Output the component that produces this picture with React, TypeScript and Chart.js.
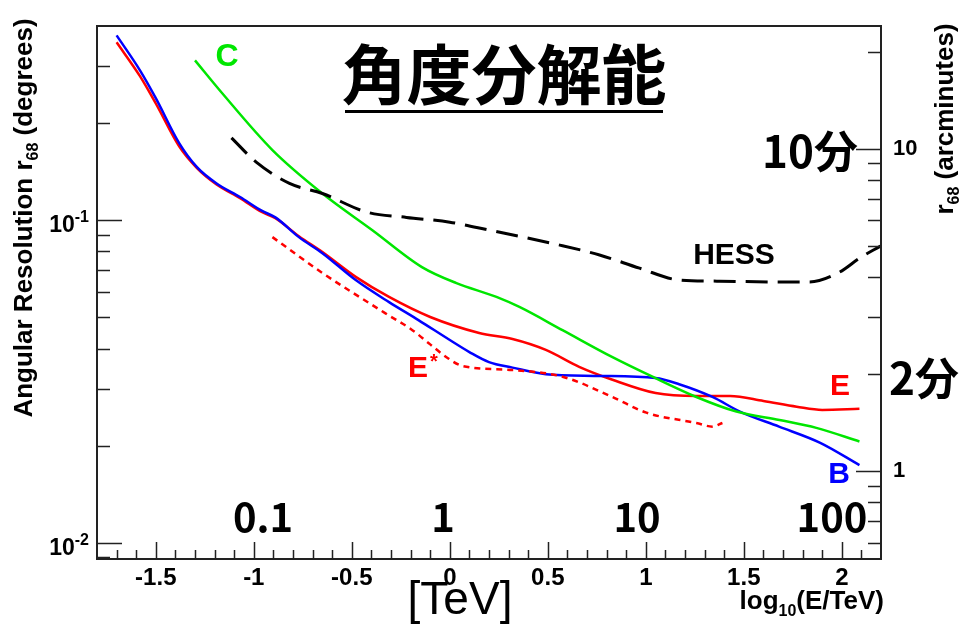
import React, { useEffect, useRef } from "react";
import { Chart, registerables } from "chart.js";
Chart.register(...registerables);

// ---- data (x = log10(E/TeV), y = r68 in degrees) ----
const bX = [-1.70, -1.58, -1.50, -1.38, -1.29, -1.19, -1.07, -0.96, -0.89, -0.77, -0.65, -0.48, -0.31, -0.16, 0.0, 0.10, 0.20, 0.32, 0.49, 0.75, 1.05, 1.17, 1.34, 1.48, 1.68, 1.89, 2.09];
const bY = [0.374, 0.291, 0.239, 0.173, 0.146, 0.130, 0.118, 0.107, 0.102, 0.0886, 0.0790, 0.0652, 0.0557, 0.0490, 0.0425, 0.0390, 0.0363, 0.0349, 0.0333, 0.0329, 0.0324, 0.0310, 0.0283, 0.0255, 0.0229, 0.0204, 0.0174];

const eX = [-1.70, -1.58, -1.50, -1.38, -1.29, -1.19, -1.07, -0.96, -0.89, -0.77, -0.65, -0.48, -0.31, -0.10, 0.15, 0.32, 0.49, 0.66, 0.83, 1.05, 1.26, 1.43, 1.60, 1.77, 1.90, 2.09];
const eY = [0.356, 0.279, 0.230, 0.169, 0.145, 0.129, 0.117, 0.106, 0.1015, 0.0892, 0.0796, 0.0667, 0.0578, 0.0501, 0.0447, 0.0428, 0.0396, 0.0351, 0.0320, 0.0291, 0.0285, 0.0285, 0.0275, 0.0264, 0.0258, 0.0260];

const cX = [-1.30, -1.16, -0.905, -0.65, -0.395, -0.14, 0.034, 0.238, 0.355, 0.575, 0.83, 1.034, 1.258, 1.462, 1.682, 1.87, 2.09];
const cY = [0.313, 0.247, 0.165, 0.121, 0.0931, 0.0714, 0.0638, 0.0578, 0.0538, 0.0456, 0.0376, 0.0327, 0.0283, 0.0255, 0.0240, 0.0227, 0.0206];

const hessX = [-1.114, -0.986, -0.818, -0.65, -0.425, -0.221, 0.0, 0.203, 0.561, 0.764, 0.968, 1.172, 1.376, 1.682, 1.835, 1.988, 2.09, 2.197];
const hessY = [0.180, 0.151, 0.130, 0.121, 0.106, 0.102, 0.0986, 0.0931, 0.0837, 0.0780, 0.0710, 0.0652, 0.0647, 0.0643, 0.0643, 0.0690, 0.0762, 0.0831];

const esX = [-0.905, -0.65, -0.33, -0.191, -0.10, -0.017, 0.065, 0.32, 0.575, 0.83, 1.003, 1.258, 1.34, 1.391];
const esY = [0.0886, 0.0686, 0.0515, 0.0456, 0.0412, 0.0376, 0.0353, 0.0343, 0.0327, 0.0283, 0.0253, 0.0235, 0.0229, 0.0235];

// ---- axes ----
const X_MIN = -1.8;
const X_MAX = 2.2;
const Y_MIN = 0.0089;
const Y_MAX = 0.4;
const ARCMIN_PER_DEG = 60;
const xTickValues = [-1.5, -1, -0.5, 0, 0.5, 1, 1.5, 2];
const xTickLabels = ["-1.5", "-1", "-0.5", "0", "0.5", "1", "1.5", "2"];
const leftTickValues = [0.1, 0.01];
const leftTickExp = ["-1", "-2"];
const rightTickValues = [1, 10];
const rightTickLabels = ["1", "10"];

const ROOTF = '"Liberation Sans", Arial, sans-serif';
const JPF = '"Noto Sans CJK JP", "Noto Sans CJK SC", sans-serif';

type Part = [string, number, number];

function rich(ctx: CanvasRenderingContext2D, parts: Part[], x: number, y: number, align: string, weight: string) {
  const widths = parts.map(([t, s]) => {
    ctx.font = `${weight} ${s}px ${ROOTF}`;
    return ctx.measureText(t).width;
  });
  const total = widths.reduce((a, b) => a + b, 0);
  let cx = align === "left" ? x : align === "center" ? x - total / 2 : x - total;
  ctx.textAlign = "left";
  ctx.textBaseline = "alphabetic";
  parts.forEach(([t, s, dy], i) => {
    ctx.font = `${weight} ${s}px ${ROOTF}`;
    ctx.fillText(t, cx, y + dy);
    cx += widths[i];
  });
}

function logTicks(min: number, max: number) {
  const out: { v: number; major: boolean }[] = [];
  for (let e = -4; e <= 3; e++) {
    for (let m = 1; m <= 9; m++) {
      const v = m * Math.pow(10, e);
      if (v > min * 1.0001 && v < max * 0.97) out.push({ v, major: m === 1 });
    }
  }
  return out;
}

const overlay = {
  id: "overlay",
  afterDraw(chart: any) {
    const ctx: CanvasRenderingContext2D = chart.ctx;
    const { left, right, top, bottom } = chart.chartArea;
    const xs = chart.scales.x;
    const ys = chart.scales.y;
    const y2 = chart.scales.y2;
    ctx.save();
    // frame
    ctx.strokeStyle = "#222";
    ctx.lineWidth = 2;
    ctx.strokeRect(left, top, right - left, bottom - top);
    ctx.lineWidth = 1.5;
    ctx.beginPath();
    // left ticks
    logTicks(Y_MIN, Y_MAX).forEach(({ v, major }) => {
      const p = Math.round(ys.getPixelForValue(v)) + 0.5;
      ctx.moveTo(left, p);
      ctx.lineTo(left + (major ? 25 : 13), p);
    });
    // right ticks (arcminutes)
    logTicks(Y_MIN * ARCMIN_PER_DEG, Y_MAX * ARCMIN_PER_DEG).forEach(({ v, major }) => {
      const p = Math.round(y2.getPixelForValue(v)) + 0.5;
      ctx.moveTo(right, p);
      ctx.lineTo(right - (major ? 25 : 13), p);
    });
    // bottom ticks
    for (let i = -17; i <= 21; i++) {
      const v = i / 10;
      const p = Math.round(xs.getPixelForValue(v)) + 0.5;
      const major = i % 5 === 0;
      ctx.moveTo(p, bottom);
      ctx.lineTo(p, bottom - (major ? 17 : 9));
    }
    ctx.stroke();

    ctx.fillStyle = "#000";
    // left tick labels 10^n
    leftTickValues.forEach((v, i) => {
      const p = ys.getPixelForValue(v);
      rich(ctx, [["10", 23, 0], [leftTickExp[i], 16, -10]], 89, p + 12, "right", "bold");
    });

    // axis titles
    ctx.save();
    ctx.translate(32, 218);
    ctx.rotate(-Math.PI / 2);
    rich(ctx, [["Angular Resolution r", 26, 0], ["68", 16, 6], [" (degrees)", 26, 0]], 0, 0, "center", "bold");
    ctx.restore();

    ctx.save();
    ctx.translate(953, 119);
    ctx.rotate(-Math.PI / 2);
    rich(ctx, [["r", 26, 0], ["68", 16, 6], [" (arcminutes)", 26, 0]], 0, 0, "center", "bold");
    ctx.restore();

    rich(ctx, [["log", 26, 0], ["10", 16, 7], ["(E/TeV)", 26, 0]], 884, 609, "right", "bold");

    // title
    ctx.textAlign = "center";
    ctx.textBaseline = "middle";
    ctx.font = `bold 65px ${JPF}`;
    ctx.fillText("角度分解能", 504, 74);
    ctx.fillRect(345, 110, 318, 3);

    ctx.font = `bold 44px ${JPF}`;
    ctx.fillText("10分", 810, 151);
    ctx.fillText("2分", 924, 378);
    ctx.font = `bold 40px ${JPF}`;
    ctx.fillText("0.1", 263, 517);
    ctx.fillText("1", 443, 517);
    ctx.fillText("10", 637, 517);
    ctx.fillText("100", 832, 517);

    ctx.font = `46px ${ROOTF}`;
    ctx.fillText("[TeV]", 460, 601);

    ctx.font = `bold 30px ${ROOTF}`;
    ctx.fillText("HESS", 734, 256);
    ctx.fillStyle = "#00e600";
    ctx.font = `bold 32px ${ROOTF}`;
    ctx.fillText("C", 227, 57);
    ctx.fillStyle = "#ff0000";
    ctx.font = `bold 30px ${ROOTF}`;
    ctx.fillText("E", 418, 369);
    ctx.fillText("E", 840, 387);
    ctx.font = `bold 20px ${ROOTF}`;
    ctx.fillText("*", 434, 362);
    ctx.fillStyle = "#0000ff";
    ctx.font = `bold 30px ${ROOTF}`;
    ctx.fillText("B", 839, 475);
    ctx.restore();
  },
};

const pts = (xs: number[], ys: number[]) => xs.map((x, i) => ({ x, y: ys[i] }));

export default function App() {
  const ref = useRef<HTMLCanvasElement>(null);
  useEffect(() => {
    document.body.style.margin = "0";
    const common = { showLine: true, pointRadius: 0, fill: false, cubicInterpolationMode: "monotone" as const, borderWidth: 2.5 };
    const chart = new Chart(ref.current!, {
      type: "scatter",
      data: {
        datasets: [
          { ...common, label: "HESS", data: pts(hessX, hessY), borderColor: "#000", borderDash: [22, 10], borderWidth: 3 },
          { ...common, label: "C", data: pts(cX, cY), borderColor: "#00e600" },
          { ...common, label: "E*", data: pts(esX, esY), borderColor: "#ff0000", borderDash: [6, 5] },
          { ...common, label: "B", data: pts(bX, bY), borderColor: "#0000ff" },
          { ...common, label: "E", data: pts(eX, eY), borderColor: "#ff0000" },
        ],
      },
      options: {
        animation: false,
        responsive: false,
        layout: { padding: { top: 26, left: 0, right: 0, bottom: 0 } },
        plugins: { legend: { display: false }, tooltip: { enabled: false } },
        scales: {
          x: {
            type: "linear",
            min: X_MIN,
            max: X_MAX,
            grid: { display: false, drawTicks: false },
            border: { display: false },
            afterBuildTicks: (s: any) => {
              s.ticks = xTickValues.map((v) => ({ value: v }));
            },
            afterFit: (s: any) => {
              s.height = 68;
            },
            ticks: {
              autoSkip: false,
              maxRotation: 0,
              padding: 5,
              color: "#000",
              font: { family: ROOTF, size: 24, weight: "bold" },
              callback: (v: any) => {
                const i = xTickValues.indexOf(Number(v));
                return i >= 0 ? xTickLabels[i] : "";
              },
            },
          },
          y: {
            type: "logarithmic",
            position: "left",
            min: Y_MIN,
            max: Y_MAX,
            grid: { display: false, drawTicks: false },
            border: { display: false },
            ticks: { display: false },
            afterFit: (s: any) => {
              s.width = 97;
            },
          },
          y2: {
            type: "logarithmic",
            position: "right",
            min: Y_MIN * ARCMIN_PER_DEG,
            max: Y_MAX * ARCMIN_PER_DEG,
            grid: { display: false, drawTicks: false },
            border: { display: false },
            afterBuildTicks: (s: any) => {
              s.ticks = rightTickValues.map((v) => ({ value: v }));
            },
            afterFit: (s: any) => {
              s.width = 90;
            },
            ticks: {
              padding: 12,
              color: "#000",
              font: { family: ROOTF, size: 22, weight: "bold" },
              callback: (v: any) => {
                const i = rightTickValues.indexOf(Number(v));
                return i >= 0 ? rightTickLabels[i] : "";
              },
            },
          },
        },
      },
      plugins: [overlay],
    });
    return () => chart.destroy();
  }, []);
  return (
    <div style={{ position: "fixed", left: 0, top: 0, width: 971, height: 627, background: "#fff" }}>
      <canvas ref={ref} width={971} height={627} style={{ width: 971, height: 627, display: "block" }} />
    </div>
  );
}
